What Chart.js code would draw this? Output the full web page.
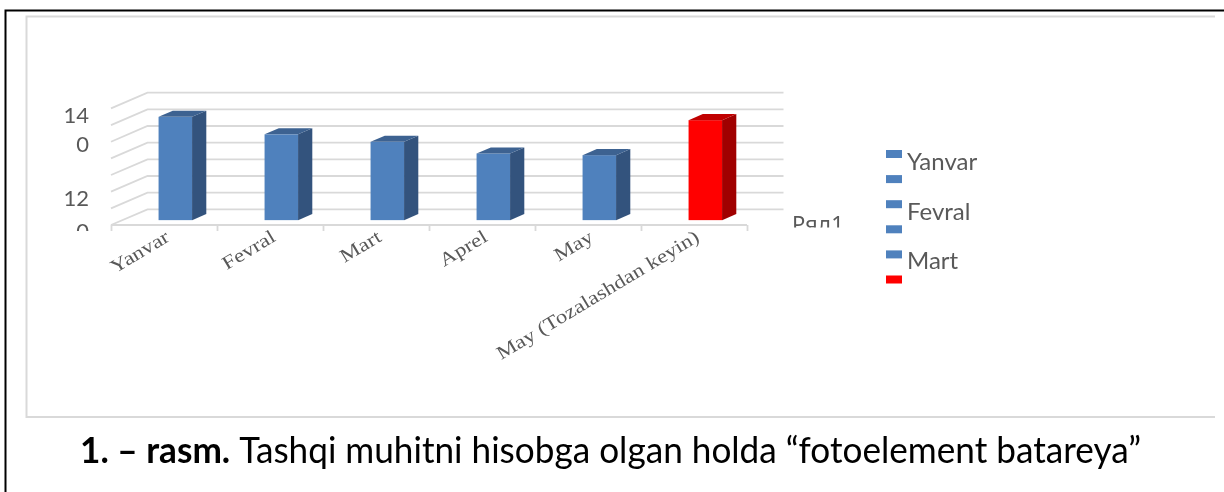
<!DOCTYPE html>
<html>
<head>
<meta charset="utf-8">
<script src="https://cdn.jsdelivr.net/npm/chart.js@4/dist/chart.umd.min.js"></script>
<style>
  html, body { margin: 0; padding: 0; background: #fff; }
  #wrap { position: relative; width: 1224px; height: 492px; overflow: hidden; }
  canvas { position: absolute; left: 0; top: 0; }
</style>
</head>
<body>
<div id="wrap"><canvas id="c" width="1224" height="492"></canvas></div>
<script>
// Monthly readings of the photovoltaic battery
const categories = ["Yanvar", "Fevral", "Mart", "Aprel", "May", "May (Tozalashdan keyin)"];
const seriesName = "Ряд1";
const values = [124, 103, 94, 80, 78, 120];
const barColors = ["#4F81BD", "#4F81BD", "#4F81BD", "#4F81BD", "#4F81BD", "#FF0000"];
const legendLabels = ["Yanvar", "Fevral", "Mart"];
const yTickLabels = ["14", "0", "12", "0"];
const yMax = 140;
const yStep = 20;
const captionBold = "1. – rasm.";
const captionText = " Tashqi muhitni hisobga olgan holda “fotoelement batareya”";

// shading for the side and top faces of each 3D column
const faceShades = {
  "#4F81BD": { side: "#33537D", top: "#3D6291" },
  "#FF0000": { side: "#A00000", top: "#C00000" }
};

// perspective offset from front plane to back wall, and the slab the columns occupy
const depth = { x: 36.5, y: -15.7 };
const barSlab = [0.31, 0.70];
const gridColor = "#D9D9D9";
const textGray = "#595959";

const frame = {
  id: "frame",
  beforeDraw(chart) {
    const ctx = chart.ctx;
    ctx.save();
    ctx.fillStyle = "#fff";
    ctx.fillRect(0, 0, chart.width, chart.height);
    // outer page frame
    ctx.strokeStyle = "#000";
    ctx.lineWidth = 2;
    ctx.beginPath();
    ctx.moveTo(1224, 10.5);
    ctx.lineTo(5.5, 10.5);
    ctx.lineTo(5.5, 492);
    ctx.stroke();
    // chart box
    ctx.strokeStyle = "#D9D9D9";
    ctx.lineWidth = 2;
    ctx.beginPath();
    ctx.moveTo(1215, 16.5);
    ctx.lineTo(26.5, 16.5);
    ctx.lineTo(26.5, 417);
    ctx.lineTo(1215, 417);
    ctx.stroke();
    ctx.restore();
  }
};

const columns3d = {
  id: "columns3d",
  beforeDatasetsDraw(chart) {
    const { ctx, chartArea: a, scales: { x, y } } = chart;
    ctx.save();
    // back wall, side wall and floor gridlines
    ctx.strokeStyle = gridColor;
    ctx.lineWidth = 1.8;
    for (let v = 0; v <= yMax; v += yStep) {
      const py = y.getPixelForValue(v);
      ctx.beginPath();
      ctx.moveTo(a.left, py);
      ctx.lineTo(a.left + depth.x, py + depth.y);
      ctx.lineTo(a.right + depth.x, py + depth.y);
      ctx.stroke();
    }
    // front floor edge with category ticks
    const y0 = y.getPixelForValue(0);
    ctx.beginPath();
    ctx.moveTo(a.left, y0);
    ctx.lineTo(a.right, y0);
    ctx.stroke();
    const half = (x.getPixelForValue(1) - x.getPixelForValue(0)) / 2;
    for (let i = 0; i <= categories.length; i++) {
      const px = Math.round(x.getPixelForValue(Math.min(i, categories.length - 1)) + (i === categories.length ? half : -half)) + 0.5;
      ctx.beginPath();
      ctx.moveTo(px, y0);
      ctx.lineTo(px, y0 + 6);
      ctx.stroke();
    }
    // columns
    const meta = chart.getDatasetMeta(0);
    const dd = barSlab[1] - barSlab[0];
    meta.data.forEach((el, i) => {
      const p = el.getProps(["x", "y", "base", "width"], true);
      const c = barColors[i];
      const sh = faceShades[c];
      const x0 = p.x - p.width / 2 + barSlab[0] * depth.x;
      const x1 = x0 + p.width;
      const yt = p.y + barSlab[0] * depth.y;
      const yb = p.base + barSlab[0] * depth.y;
      const ox = dd * depth.x, oy = dd * depth.y;
      ctx.fillStyle = c;
      ctx.fillRect(x0, yt, x1 - x0, yb - yt);
      ctx.fillStyle = sh.side;
      ctx.beginPath();
      ctx.moveTo(x1, yt); ctx.lineTo(x1 + ox, yt + oy); ctx.lineTo(x1 + ox, yb + oy); ctx.lineTo(x1, yb);
      ctx.closePath(); ctx.fill();
      ctx.fillStyle = sh.top;
      ctx.beginPath();
      ctx.moveTo(x0, yt); ctx.lineTo(x1, yt); ctx.lineTo(x1 + ox, yt + oy); ctx.lineTo(x0 + ox, yt + oy);
      ctx.closePath(); ctx.fill();
    });
    ctx.restore();
    return false;
  }
};

const texts = {
  id: "texts",
  afterDraw(chart) {
    const { ctx, scales: { x } } = chart;
    ctx.save();
    // value axis labels, cut at the lower edge of the plot box
    ctx.save();
    ctx.beginPath();
    ctx.rect(0, 0, 1224, 231);
    ctx.clip();
    ctx.fillStyle = textGray;
    ctx.font = "22px Lato, 'Noto Sans'";
    ctx.textAlign = "right";
    ctx.textBaseline = "alphabetic";
    const yLabelBase = [123, 152, 206, 239];
    yTickLabels.forEach((t, i) => ctx.fillText(t, 89, yLabelBase[i]));
    ctx.restore();

    // series name, also cut
    ctx.save();
    ctx.beginPath();
    ctx.rect(0, 0, 1224, 227.5);
    ctx.clip();
    ctx.fillStyle = textGray;
    ctx.textAlign = "left";
    ctx.font = "22px 'Noto Sans', Lato";
    ctx.fillText(seriesName, 792, 232);
    ctx.restore();

    // category labels, slanted
    ctx.fillStyle = textGray;
    ctx.font = "19px 'Liberation Serif'";
    ctx.textAlign = "right";
    ctx.textBaseline = "middle";
    categories.forEach((c, i) => {
      const px = x.getPixelForValue(i);
      ctx.save();
      ctx.translate(px + 4, 236);
      ctx.rotate(-31 * Math.PI / 180);
      ctx.scale(1.2, 1);
      ctx.fillText(c, 0, 0);
      ctx.restore();
    });

    // legend
    ctx.textAlign = "left";
    ctx.textBaseline = "alphabetic";
    ctx.font = "24px Lato, 'Noto Sans'";
    barColors.forEach((col, i) => {
      ctx.fillStyle = col;
      ctx.fillRect(886, 150 + i * 25.1, 16, 8);
    });
    ctx.fillStyle = textGray;
    legendLabels.forEach((l, j) => ctx.fillText(l, 907, 170 + j * 49.6));

    // caption
    ctx.fillStyle = "#000";
    const fs = 37;
    ctx.font = "bold " + fs + "px Lato";
    const wb = ctx.measureText(captionBold).width;
    ctx.font = fs + "px Lato";
    const wn = ctx.measureText(captionText).width;
    const sx = 1061 / (wb + wn);
    ctx.save();
    ctx.translate(80, 463);
    ctx.scale(sx, 1);
    ctx.font = "bold " + fs + "px Lato";
    ctx.fillText(captionBold, 0, 0);
    ctx.font = fs + "px Lato";
    ctx.fillText(captionText, wb, 0);
    ctx.restore();
    ctx.restore();
  }
};

new Chart(document.getElementById("c"), {
  type: "bar",
  data: {
    labels: categories,
    datasets: [{
      label: seriesName,
      data: values,
      backgroundColor: barColors,
      barPercentage: 0.316,
      categoryPercentage: 1
    }]
  },
  options: {
    responsive: false,
    animation: false,
    devicePixelRatio: 1,
    layout: { padding: { left: 111, right: 477, top: 108.4, bottom: 267 } },
    plugins: { legend: { display: false }, tooltip: { enabled: false } },
    scales: {
      x: { display: false },
      y: { display: false, min: 0, max: yMax, ticks: { stepSize: yStep } }
    }
  },
  plugins: [frame, columns3d, texts]
});
</script>
</body>
</html>
